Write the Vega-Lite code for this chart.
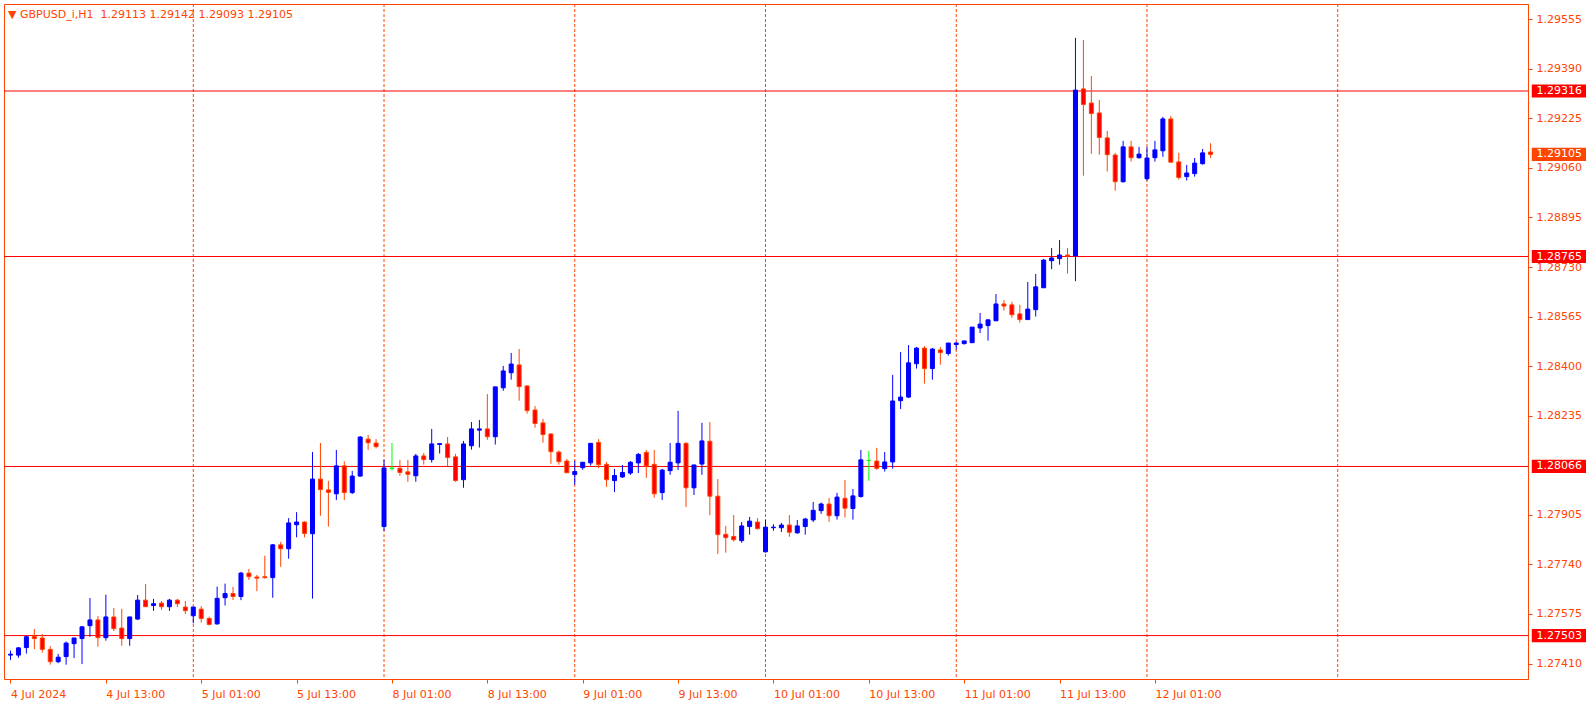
{
  "$schema": "https://vega.github.io/schema/vega-lite/v6.json",
  "width": 1524,
  "height": 675,
  "autosize": {"type": "none"},
  "padding": {"left": 4, "top": 4, "right": 58, "bottom": 29},
  "background": "#FFFFFF",
  "config": {
    "view": {"stroke": "#FF4500", "strokeWidth": 1},
    "axis": {"labelFont": "DejaVu Sans", "labelFontSize": 11, "labelColor": "#FF4500", "tickColor": "#FF4500", "domain": false, "grid": false, "labelOverlap": false, "labelFlush": false, "labelBound": false}
  },
  "title": {
    "text": "▼ GBPUSD_i,H1\u00a0\u00a01.29113 1.29142 1.29093 1.29105",
    "anchor": "start",
    "frame": "group",
    "orient": "top",
    "offset": -16,
    "dx": 4,
    "font": "DejaVu Sans",
    "fontSize": 11,
    "fontWeight": "normal",
    "color": "#FF4500"
  },
  "datasets": {
    "candles": [
      {"i":0,"o":1.27438,"h":1.27453,"l":1.27422,"c":1.27441},
      {"i":1,"o":1.27438,"h":1.27465,"l":1.27429,"c":1.27462},
      {"i":2,"o":1.27463,"h":1.27502,"l":1.27443,"c":1.27499},
      {"i":3,"o":1.27500,"h":1.27525,"l":1.27458,"c":1.27493},
      {"i":4,"o":1.27495,"h":1.27508,"l":1.27446,"c":1.27457},
      {"i":5,"o":1.27457,"h":1.27468,"l":1.27406,"c":1.27416},
      {"i":6,"o":1.27416,"h":1.27442,"l":1.27411,"c":1.27431},
      {"i":7,"o":1.27433,"h":1.27483,"l":1.27406,"c":1.27478},
      {"i":8,"o":1.27476,"h":1.27495,"l":1.27428,"c":1.27495},
      {"i":9,"o":1.27493,"h":1.27535,"l":1.27408,"c":1.27532},
      {"i":10,"o":1.27536,"h":1.27628,"l":1.27499,"c":1.27555},
      {"i":11,"o":1.27555,"h":1.27568,"l":1.27466,"c":1.27496},
      {"i":12,"o":1.27496,"h":1.27639,"l":1.27486,"c":1.27565},
      {"i":13,"o":1.27565,"h":1.27595,"l":1.27518,"c":1.27526},
      {"i":14,"o":1.27528,"h":1.27592,"l":1.27469,"c":1.27493},
      {"i":15,"o":1.27493,"h":1.27565,"l":1.27469,"c":1.27565},
      {"i":16,"o":1.27558,"h":1.27638,"l":1.27555,"c":1.27621},
      {"i":17,"o":1.27621,"h":1.27675,"l":1.27599,"c":1.27599},
      {"i":18,"o":1.27603,"h":1.27625,"l":1.27585,"c":1.27609},
      {"i":19,"o":1.27611,"h":1.27618,"l":1.27589,"c":1.27599},
      {"i":20,"o":1.27599,"h":1.27625,"l":1.27585,"c":1.27621},
      {"i":21,"o":1.27621,"h":1.27625,"l":1.27598,"c":1.27609},
      {"i":22,"o":1.27598,"h":1.27618,"l":1.27575,"c":1.27586},
      {"i":23,"o":1.27569,"h":1.27598,"l":1.27544,"c":1.27598},
      {"i":24,"o":1.27591,"h":1.27601,"l":1.27546,"c":1.27560},
      {"i":25,"o":1.27560,"h":1.27566,"l":1.27537,"c":1.27540},
      {"i":26,"o":1.27542,"h":1.27666,"l":1.27539,"c":1.27627},
      {"i":27,"o":1.27629,"h":1.27676,"l":1.27603,"c":1.27643},
      {"i":28,"o":1.27643,"h":1.27665,"l":1.27621,"c":1.27633},
      {"i":29,"o":1.27633,"h":1.27715,"l":1.27621,"c":1.27711},
      {"i":30,"o":1.27711,"h":1.27725,"l":1.27688,"c":1.27699},
      {"i":31,"o":1.27698,"h":1.27705,"l":1.27651,"c":1.27694},
      {"i":32,"o":1.27699,"h":1.27769,"l":1.27692,"c":1.27696},
      {"i":33,"o":1.27696,"h":1.27808,"l":1.27629,"c":1.27805},
      {"i":34,"o":1.27805,"h":1.27815,"l":1.27732,"c":1.27792},
      {"i":35,"o":1.27792,"h":1.27894,"l":1.27759,"c":1.27878},
      {"i":36,"o":1.27872,"h":1.27914,"l":1.27830,"c":1.27881},
      {"i":37,"o":1.27881,"h":1.27884,"l":1.27830,"c":1.27843},
      {"i":38,"o":1.27842,"h":1.28114,"l":1.27626,"c":1.28024},
      {"i":39,"o":1.28024,"h":1.28144,"l":1.27902,"c":1.27989},
      {"i":40,"o":1.27988,"h":1.28018,"l":1.27866,"c":1.27980},
      {"i":41,"o":1.27975,"h":1.28121,"l":1.27954,"c":1.28068},
      {"i":42,"o":1.28068,"h":1.28083,"l":1.27954,"c":1.27979},
      {"i":43,"o":1.27979,"h":1.28051,"l":1.27974,"c":1.28034},
      {"i":44,"o":1.28034,"h":1.28167,"l":1.28032,"c":1.28164},
      {"i":45,"o":1.28157,"h":1.28171,"l":1.28121,"c":1.28145},
      {"i":46,"o":1.28144,"h":1.28157,"l":1.28126,"c":1.28132},
      {"i":47,"o":1.27866,"h":1.28088,"l":1.27852,"c":1.28061},
      {"i":48,"o":1.28060,"h":1.28144,"l":1.28052,"c":1.28060},
      {"i":49,"o":1.28060,"h":1.28088,"l":1.28035,"c":1.28046},
      {"i":50,"o":1.28048,"h":1.28088,"l":1.28015,"c":1.28040},
      {"i":51,"o":1.28035,"h":1.28108,"l":1.28015,"c":1.28101},
      {"i":52,"o":1.28101,"h":1.28111,"l":1.28072,"c":1.28089},
      {"i":53,"o":1.28089,"h":1.28191,"l":1.28079,"c":1.28141},
      {"i":54,"o":1.28139,"h":1.28144,"l":1.28109,"c":1.28142},
      {"i":55,"o":1.28141,"h":1.28164,"l":1.28066,"c":1.28096},
      {"i":56,"o":1.28098,"h":1.28108,"l":1.28015,"c":1.28019},
      {"i":57,"o":1.28022,"h":1.28151,"l":1.27995,"c":1.28141},
      {"i":58,"o":1.28135,"h":1.28214,"l":1.28122,"c":1.28191},
      {"i":59,"o":1.28187,"h":1.28221,"l":1.28129,"c":1.28191},
      {"i":60,"o":1.28191,"h":1.28307,"l":1.28155,"c":1.28165},
      {"i":61,"o":1.28165,"h":1.28331,"l":1.28139,"c":1.28331},
      {"i":62,"o":1.28328,"h":1.28401,"l":1.28318,"c":1.28384},
      {"i":63,"o":1.28378,"h":1.28444,"l":1.28355,"c":1.28407},
      {"i":64,"o":1.28404,"h":1.28457,"l":1.28285,"c":1.28332},
      {"i":65,"o":1.28334,"h":1.28337,"l":1.28242,"c":1.28252},
      {"i":66,"o":1.28254,"h":1.28267,"l":1.28195,"c":1.28209},
      {"i":67,"o":1.28211,"h":1.28224,"l":1.28145,"c":1.28172},
      {"i":68,"o":1.28174,"h":1.28177,"l":1.28075,"c":1.28115},
      {"i":69,"o":1.28114,"h":1.28119,"l":1.28072,"c":1.28082},
      {"i":70,"o":1.28084,"h":1.28091,"l":1.28045,"c":1.28045},
      {"i":71,"o":1.28039,"h":1.28085,"l":1.28005,"c":1.28049},
      {"i":72,"o":1.28062,"h":1.28080,"l":1.28055,"c":1.28080},
      {"i":73,"o":1.28078,"h":1.28143,"l":1.28069,"c":1.28143},
      {"i":74,"o":1.28146,"h":1.28157,"l":1.28060,"c":1.28072},
      {"i":75,"o":1.28073,"h":1.28081,"l":1.27998,"c":1.28022},
      {"i":76,"o":1.28019,"h":1.28058,"l":1.27981,"c":1.28036},
      {"i":77,"o":1.28031,"h":1.28071,"l":1.28028,"c":1.28046},
      {"i":78,"o":1.28044,"h":1.28084,"l":1.28038,"c":1.28080},
      {"i":79,"o":1.28078,"h":1.28111,"l":1.28044,"c":1.28106},
      {"i":80,"o":1.28113,"h":1.28121,"l":1.28028,"c":1.28068},
      {"i":81,"o":1.28073,"h":1.28121,"l":1.27962,"c":1.27975},
      {"i":82,"o":1.27979,"h":1.28058,"l":1.27954,"c":1.28054},
      {"i":83,"o":1.28052,"h":1.28144,"l":1.28038,"c":1.28080},
      {"i":84,"o":1.28078,"h":1.28251,"l":1.28054,"c":1.28143},
      {"i":85,"o":1.28143,"h":1.28147,"l":1.27931,"c":1.27995},
      {"i":86,"o":1.27995,"h":1.28071,"l":1.27971,"c":1.28071},
      {"i":87,"o":1.28074,"h":1.28211,"l":1.28038,"c":1.28151},
      {"i":88,"o":1.28150,"h":1.28214,"l":1.27904,"c":1.27967},
      {"i":89,"o":1.27967,"h":1.28024,"l":1.27775,"c":1.27839},
      {"i":90,"o":1.27840,"h":1.27868,"l":1.27779,"c":1.27829},
      {"i":91,"o":1.27833,"h":1.27904,"l":1.27816,"c":1.27822},
      {"i":92,"o":1.27819,"h":1.27881,"l":1.27812,"c":1.27868},
      {"i":93,"o":1.27866,"h":1.27898,"l":1.27839,"c":1.27884},
      {"i":94,"o":1.27881,"h":1.27894,"l":1.27856,"c":1.27859},
      {"i":95,"o":1.27782,"h":1.27888,"l":1.27779,"c":1.27864},
      {"i":96,"o":1.27862,"h":1.27874,"l":1.27852,"c":1.27864},
      {"i":97,"o":1.27862,"h":1.27878,"l":1.27848,"c":1.27871},
      {"i":98,"o":1.27871,"h":1.27904,"l":1.27832,"c":1.27847},
      {"i":99,"o":1.27845,"h":1.27888,"l":1.27842,"c":1.27868},
      {"i":100,"o":1.27866,"h":1.27895,"l":1.27839,"c":1.27891},
      {"i":101,"o":1.27888,"h":1.27948,"l":1.27881,"c":1.27920},
      {"i":102,"o":1.27919,"h":1.27946,"l":1.27908,"c":1.27941},
      {"i":103,"o":1.27941,"h":1.27961,"l":1.27882,"c":1.27902},
      {"i":104,"o":1.27902,"h":1.27978,"l":1.27889,"c":1.27964},
      {"i":105,"o":1.27960,"h":1.28021,"l":1.27896,"c":1.27927},
      {"i":106,"o":1.27926,"h":1.27991,"l":1.27889,"c":1.27968},
      {"i":107,"o":1.27966,"h":1.28121,"l":1.27962,"c":1.28088},
      {"i":108,"o":1.28086,"h":1.28118,"l":1.28018,"c":1.28086},
      {"i":109,"o":1.28084,"h":1.28128,"l":1.28055,"c":1.28060},
      {"i":110,"o":1.28059,"h":1.28114,"l":1.28049,"c":1.28081},
      {"i":111,"o":1.28081,"h":1.28371,"l":1.28059,"c":1.28284},
      {"i":112,"o":1.28285,"h":1.28447,"l":1.28257,"c":1.28297},
      {"i":113,"o":1.28297,"h":1.28470,"l":1.28294,"c":1.28411},
      {"i":114,"o":1.28408,"h":1.28464,"l":1.28392,"c":1.28460},
      {"i":115,"o":1.28460,"h":1.28467,"l":1.28342,"c":1.28392},
      {"i":116,"o":1.28392,"h":1.28460,"l":1.28355,"c":1.28457},
      {"i":117,"o":1.28454,"h":1.28464,"l":1.28405,"c":1.28445},
      {"i":118,"o":1.28442,"h":1.28477,"l":1.28435,"c":1.28477},
      {"i":119,"o":1.28472,"h":1.28480,"l":1.28455,"c":1.28477},
      {"i":120,"o":1.28475,"h":1.28484,"l":1.28472,"c":1.28484},
      {"i":121,"o":1.28478,"h":1.28530,"l":1.28478,"c":1.28530},
      {"i":122,"o":1.28527,"h":1.28577,"l":1.28510,"c":1.28540},
      {"i":123,"o":1.28535,"h":1.28557,"l":1.28485,"c":1.28554},
      {"i":124,"o":1.28551,"h":1.28640,"l":1.28551,"c":1.28607},
      {"i":125,"o":1.28607,"h":1.28620,"l":1.28585,"c":1.28600},
      {"i":126,"o":1.28604,"h":1.28614,"l":1.28561,"c":1.28571},
      {"i":127,"o":1.28574,"h":1.28604,"l":1.28545,"c":1.28555},
      {"i":128,"o":1.28555,"h":1.28680,"l":1.28555,"c":1.28590},
      {"i":129,"o":1.28588,"h":1.28707,"l":1.28565,"c":1.28664},
      {"i":130,"o":1.28661,"h":1.28757,"l":1.28661,"c":1.28753},
      {"i":131,"o":1.28751,"h":1.28793,"l":1.28723,"c":1.28760},
      {"i":132,"o":1.28758,"h":1.28820,"l":1.28738,"c":1.28770},
      {"i":133,"o":1.28770,"h":1.28793,"l":1.28708,"c":1.28767},
      {"i":134,"o":1.28767,"h":1.29493,"l":1.28683,"c":1.29319},
      {"i":135,"o":1.29323,"h":1.29486,"l":1.29034,"c":1.29271},
      {"i":136,"o":1.29276,"h":1.29366,"l":1.29107,"c":1.29241},
      {"i":137,"o":1.29243,"h":1.29286,"l":1.29104,"c":1.29161},
      {"i":138,"o":1.29160,"h":1.29183,"l":1.29048,"c":1.29104},
      {"i":139,"o":1.29103,"h":1.29110,"l":1.28984,"c":1.29014},
      {"i":140,"o":1.29014,"h":1.29150,"l":1.29011,"c":1.29130},
      {"i":141,"o":1.29130,"h":1.29150,"l":1.29081,"c":1.29094},
      {"i":142,"o":1.29094,"h":1.29130,"l":1.29091,"c":1.29106},
      {"i":143,"o":1.29024,"h":1.29130,"l":1.29018,"c":1.29093},
      {"i":144,"o":1.29094,"h":1.29150,"l":1.29081,"c":1.29120},
      {"i":145,"o":1.29117,"h":1.29230,"l":1.29097,"c":1.29223},
      {"i":146,"o":1.29223,"h":1.29233,"l":1.29078,"c":1.29079},
      {"i":147,"o":1.29080,"h":1.29110,"l":1.29021,"c":1.29028},
      {"i":148,"o":1.29031,"h":1.29070,"l":1.29018,"c":1.29043},
      {"i":149,"o":1.29041,"h":1.29093,"l":1.29031,"c":1.29076},
      {"i":150,"o":1.29074,"h":1.29123,"l":1.29071,"c":1.29110},
      {"i":151,"o":1.29113,"h":1.29142,"l":1.29093,"c":1.29105}
    ],
    "seps": [{"i":23},{"i":47},{"i":71},{"i":95},{"i":119},{"i":143},{"i":167}],
    "levels": [{"p":1.29316},{"p":1.28765},{"p":1.28066},{"p":1.27503}],
    "last": [{"p":1.29105}]
  },
  "layer": [
    {
      "data": {"name": "seps"},
      "mark": {"type": "rule", "color": "#FF4500", "strokeWidth": 1, "strokeDash": [3, 2]},
      "encoding": {
        "x": {"field": "i", "type": "quantitative", "scale": {"domain": [-0.1875, 190.3125], "nice": false, "zero": false},
          "axis": {"title": null, "values": [0,12,24,36,48,60,72,84,96,108,120,132,144],
            "labelExpr": "['4 Jul 2024','4 Jul 13:00','5 Jul 01:00','5 Jul 13:00','8 Jul 01:00','8 Jul 13:00','9 Jul 01:00','9 Jul 13:00','10 Jul 01:00','10 Jul 13:00','11 Jul 01:00','11 Jul 13:00','12 Jul 01:00'][datum.value/12]",
            "orient": "bottom", "tickSize": 4, "labelAlign": "left", "labelBaseline": "top", "labelPadding": 5}}
      }
    },
    {
      "data": {"name": "levels"},
      "mark": {"type": "rule", "color": "#FF0000", "strokeWidth": 1},
      "encoding": {
        "y": {"field": "p", "type": "quantitative", "scale": {"domain": [1.273584, 1.296057], "nice": false, "zero": false},
          "axis": {"title": null, "orient": "right", "values": [1.2741,1.27575,1.2774,1.27905,1.28235,1.284,1.28565,1.2873,1.28895,1.2906,1.29225,1.2939,1.29555],
            "format": ".5f", "tickSize": 4, "labelPadding": 4, "labelBaseline": "middle"}}
      }
    },
    {
      "data": {"name": "candles"},
      "mark": {"type": "rule", "strokeWidth": 1},
      "encoding": {
        "x": {"field": "i", "type": "quantitative", "scale": {"domain": [-0.1875, 190.3125], "nice": false, "zero": false},
          "axis": {"title": null, "values": [0,12,24,36,48,60,72,84,96,108,120,132,144],
            "labelExpr": "['4 Jul 2024','4 Jul 13:00','5 Jul 01:00','5 Jul 13:00','8 Jul 01:00','8 Jul 13:00','9 Jul 01:00','9 Jul 13:00','10 Jul 01:00','10 Jul 13:00','11 Jul 01:00','11 Jul 13:00','12 Jul 01:00'][datum.value/12]",
            "orient": "bottom", "tickSize": 4, "labelAlign": "left", "labelBaseline": "top", "labelPadding": 5}},
        "y": {"field": "l", "type": "quantitative", "scale": {"domain": [1.273584, 1.296057], "nice": false, "zero": false},
          "axis": {"title": null, "orient": "right", "values": [1.2741,1.27575,1.2774,1.27905,1.28235,1.284,1.28565,1.2873,1.28895,1.2906,1.29225,1.2939,1.29555],
            "format": ".5f", "tickSize": 4, "labelPadding": 4, "labelBaseline": "middle"}},
        "y2": {"field": "h"},
        "color": {"condition": [{"test": "datum.c > datum.o", "value": "#0000FF"}, {"test": "datum.c == datum.o", "value": "#00FF00"}], "value": "#FF4500"}
      }
    },
    {
      "data": {"name": "candles"},
      "mark": {"type": "bar", "size": 4, "strokeWidth": 1},
      "encoding": {
        "x": {"field": "i", "type": "quantitative", "scale": {"domain": [-0.1875, 190.3125], "nice": false, "zero": false},
          "axis": {"title": null, "values": [0,12,24,36,48,60,72,84,96,108,120,132,144],
            "labelExpr": "['4 Jul 2024','4 Jul 13:00','5 Jul 01:00','5 Jul 13:00','8 Jul 01:00','8 Jul 13:00','9 Jul 01:00','9 Jul 13:00','10 Jul 01:00','10 Jul 13:00','11 Jul 01:00','11 Jul 13:00','12 Jul 01:00'][datum.value/12]",
            "orient": "bottom", "tickSize": 4, "labelAlign": "left", "labelBaseline": "top", "labelPadding": 5}},
        "y": {"field": "o", "type": "quantitative", "scale": {"domain": [1.273584, 1.296057], "nice": false, "zero": false},
          "axis": {"title": null, "orient": "right", "values": [1.2741,1.27575,1.2774,1.27905,1.28235,1.284,1.28565,1.2873,1.28895,1.2906,1.29225,1.2939,1.29555],
            "format": ".5f", "tickSize": 4, "labelPadding": 4, "labelBaseline": "middle"}},
        "y2": {"field": "c"},
        "fill": {"condition": [{"test": "datum.c > datum.o", "value": "#0000FF"}, {"test": "datum.c == datum.o", "value": "#00FF00"}], "value": "#FF0000"},
        "stroke": {"condition": [{"test": "datum.c > datum.o", "value": "#0000FF"}, {"test": "datum.c == datum.o", "value": "#00FF00"}], "value": "#FF4500"}
      }
    },
    {
      "data": {"name": "levels"},
      "mark": {"type": "point", "shape": "M-1,-0.24L1,-0.24L1,0.24L-1,0.24Z", "filled": true, "size": 3025, "opacity": 1, "color": "#FF0000", "strokeWidth": 0},
      "encoding": {
        "x": {"datum": 194.875, "type": "quantitative", "scale": {"domain": [-0.1875, 190.3125], "nice": false, "zero": false},
          "axis": {"title": null, "values": [0,12,24,36,48,60,72,84,96,108,120,132,144],
            "labelExpr": "['4 Jul 2024','4 Jul 13:00','5 Jul 01:00','5 Jul 13:00','8 Jul 01:00','8 Jul 13:00','9 Jul 01:00','9 Jul 13:00','10 Jul 01:00','10 Jul 13:00','11 Jul 01:00','11 Jul 13:00','12 Jul 01:00'][datum.value/12]",
            "orient": "bottom", "tickSize": 4, "labelAlign": "left", "labelBaseline": "top", "labelPadding": 5}},
        "y": {"field": "p", "type": "quantitative", "scale": {"domain": [1.273584, 1.296057], "nice": false, "zero": false},
          "axis": {"title": null, "orient": "right", "values": [1.2741,1.27575,1.2774,1.27905,1.28235,1.284,1.28565,1.2873,1.28895,1.2906,1.29225,1.2939,1.29555],
            "format": ".5f", "tickSize": 4, "labelPadding": 4, "labelBaseline": "middle"}}
      }
    },
    {
      "data": {"name": "levels"},
      "mark": {"type": "text", "color": "#FFFFFF", "font": "DejaVu Sans", "fontSize": 11, "align": "center", "baseline": "middle"},
      "encoding": {
        "x": {"datum": 194.875, "type": "quantitative", "scale": {"domain": [-0.1875, 190.3125], "nice": false, "zero": false},
          "axis": {"title": null, "values": [0,12,24,36,48,60,72,84,96,108,120,132,144],
            "labelExpr": "['4 Jul 2024','4 Jul 13:00','5 Jul 01:00','5 Jul 13:00','8 Jul 01:00','8 Jul 13:00','9 Jul 01:00','9 Jul 13:00','10 Jul 01:00','10 Jul 13:00','11 Jul 01:00','11 Jul 13:00','12 Jul 01:00'][datum.value/12]",
            "orient": "bottom", "tickSize": 4, "labelAlign": "left", "labelBaseline": "top", "labelPadding": 5}},
        "y": {"field": "p", "type": "quantitative", "scale": {"domain": [1.273584, 1.296057], "nice": false, "zero": false},
          "axis": {"title": null, "orient": "right", "values": [1.2741,1.27575,1.2774,1.27905,1.28235,1.284,1.28565,1.2873,1.28895,1.2906,1.29225,1.2939,1.29555],
            "format": ".5f", "tickSize": 4, "labelPadding": 4, "labelBaseline": "middle"}},
        "text": {"field": "p", "type": "quantitative", "format": ".5f"}
      }
    },
    {
      "data": {"name": "last"},
      "mark": {"type": "point", "shape": "M-1,-0.24L1,-0.24L1,0.24L-1,0.24Z", "filled": true, "size": 3025, "opacity": 1, "color": "#FF4500", "strokeWidth": 0},
      "encoding": {
        "x": {"datum": 194.875, "type": "quantitative", "scale": {"domain": [-0.1875, 190.3125], "nice": false, "zero": false},
          "axis": {"title": null, "values": [0,12,24,36,48,60,72,84,96,108,120,132,144],
            "labelExpr": "['4 Jul 2024','4 Jul 13:00','5 Jul 01:00','5 Jul 13:00','8 Jul 01:00','8 Jul 13:00','9 Jul 01:00','9 Jul 13:00','10 Jul 01:00','10 Jul 13:00','11 Jul 01:00','11 Jul 13:00','12 Jul 01:00'][datum.value/12]",
            "orient": "bottom", "tickSize": 4, "labelAlign": "left", "labelBaseline": "top", "labelPadding": 5}},
        "y": {"field": "p", "type": "quantitative", "scale": {"domain": [1.273584, 1.296057], "nice": false, "zero": false},
          "axis": {"title": null, "orient": "right", "values": [1.2741,1.27575,1.2774,1.27905,1.28235,1.284,1.28565,1.2873,1.28895,1.2906,1.29225,1.2939,1.29555],
            "format": ".5f", "tickSize": 4, "labelPadding": 4, "labelBaseline": "middle"}}
      }
    },
    {
      "data": {"name": "last"},
      "mark": {"type": "text", "color": "#FFFFFF", "font": "DejaVu Sans", "fontSize": 11, "align": "center", "baseline": "middle"},
      "encoding": {
        "x": {"datum": 194.875, "type": "quantitative", "scale": {"domain": [-0.1875, 190.3125], "nice": false, "zero": false},
          "axis": {"title": null, "values": [0,12,24,36,48,60,72,84,96,108,120,132,144],
            "labelExpr": "['4 Jul 2024','4 Jul 13:00','5 Jul 01:00','5 Jul 13:00','8 Jul 01:00','8 Jul 13:00','9 Jul 01:00','9 Jul 13:00','10 Jul 01:00','10 Jul 13:00','11 Jul 01:00','11 Jul 13:00','12 Jul 01:00'][datum.value/12]",
            "orient": "bottom", "tickSize": 4, "labelAlign": "left", "labelBaseline": "top", "labelPadding": 5}},
        "y": {"field": "p", "type": "quantitative", "scale": {"domain": [1.273584, 1.296057], "nice": false, "zero": false},
          "axis": {"title": null, "orient": "right", "values": [1.2741,1.27575,1.2774,1.27905,1.28235,1.284,1.28565,1.2873,1.28895,1.2906,1.29225,1.2939,1.29555],
            "format": ".5f", "tickSize": 4, "labelPadding": 4, "labelBaseline": "middle"}},
        "text": {"field": "p", "type": "quantitative", "format": ".5f"}
      }
    }
  ]
}
